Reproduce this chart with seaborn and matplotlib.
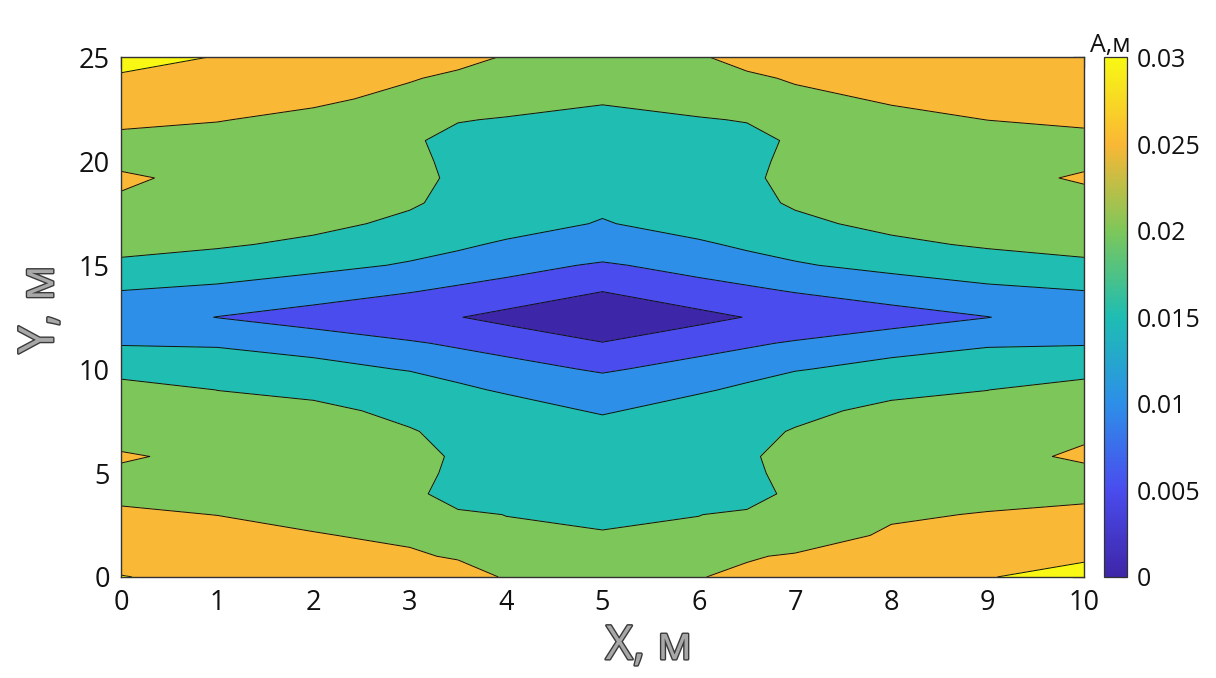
import numpy as np
import matplotlib
matplotlib.use("Agg")
import matplotlib.pyplot as plt
import matplotlib.patheffects as pe
from matplotlib.colors import Normalize
from matplotlib.cm import ScalarMappable
import seaborn as sns

# Grid nodes (metres)
x_pos = [0, 1, 2, 3, 3.5, 4, 5, 6, 6.5, 7, 8, 9, 10]
y_pos = [0, 1, 2, 3, 4, 5, 5.8, 7, 8, 9, 10, 11.25, 12.5, 13.75, 15,
         16, 17, 18, 19.2, 20, 21, 22, 23, 24, 25]

# Amplitude A (m) along each grid column, listed from y = 0 to y = 25
amp_x0 = [0.0302, 0.0280, 0.0265, 0.02536, 0.0245, 0.02425, 0.0255, 0.0230, 0.0235,
          0.02318, 0.01707, 0.0148, 0.0125, 0.01495, 0.01703, 0.02485, 0.0245, 0.02456,
          0.0255, 0.02425, 0.02365, 0.0262, 0.0280, 0.02947, 0.0315]
amp_x1 = [0.0285, 0.0270, 0.0258, 0.02497, 0.0245, 0.0240, 0.02383, 0.0232, 0.0220,
          0.01995, 0.0176, 0.0145, 0.0099, 0.0140, 0.01757, 0.02061, 0.0225, 0.0235,
          0.02407, 0.0238, 0.0240, 0.02512, 0.0268, 0.0285, 0.02981]
amp_x2 = [0.0278, 0.0265, 0.02522, 0.0240, 0.0235, 0.0230, 0.0228, 0.0222, 0.0215,
          0.0185, 0.01748, 0.01185, 0.0085, 0.01168, 0.01656, 0.0190, 0.02122, 0.0225,
          0.0232, 0.0235, 0.0238, 0.0243, 0.02551, 0.0270, 0.0285]
amp_x3 = [0.0265, 0.0255, 0.02432, 0.0230, 0.0220, 0.0215, 0.0212, 0.02038, 0.0185,
          0.0195, 0.0145, 0.01035, 0.0070, 0.01018, 0.0145, 0.0170, 0.0190, 0.02054,
          0.0215, 0.0215, 0.0210, 0.0230, 0.0243, 0.02518, 0.0262]
amp_x3_5 = [0.02682, 0.0246, 0.0225, 0.02109, 0.01674, 0.0190, 0.01953, 0.0185, 0.0180,
            0.01656, 0.0121, 0.0095, 0.00517, 0.0093, 0.01232, 0.01615, 0.0178, 0.01874,
            0.01908, 0.0185, 0.01788, 0.02037, 0.0230, 0.0245, 0.02575]
amp_x4 = [0.02465, 0.0225, 0.02115, 0.0199, 0.0185, 0.0180, 0.0180, 0.0185, 0.0190,
          0.0140, 0.01145, 0.00843, 0.0035, 0.00843, 0.0114, 0.0140, 0.0180, 0.0185,
          0.0183, 0.0182, 0.0185, 0.0195, 0.02307, 0.0240, 0.02481]
amp_x5 = [0.0232, 0.0220, 0.02053, 0.0185, 0.0182, 0.0180, 0.0182, 0.0190, 0.0140,
          0.01213, 0.0095, 0.005125, 0.0020, 0.00505, 0.0095, 0.01263, 0.0145, 0.0165,
          0.0178, 0.0180, 0.0182, 0.0190, 0.02039, 0.0222, 0.0232]
amp_x6 = [0.02482, 0.0225, 0.02115, 0.0199, 0.0185, 0.0180, 0.0180, 0.0185, 0.0190,
          0.0140, 0.01145, 0.00843, 0.0035, 0.00843, 0.0114, 0.0140, 0.0180, 0.0185,
          0.0183, 0.0182, 0.0185, 0.0195, 0.02307, 0.0240, 0.02469]
amp_x6_5 = [0.02593, 0.0246, 0.0225, 0.02109, 0.01674, 0.0190, 0.01953, 0.0185, 0.0180,
            0.01656, 0.0121, 0.0095, 0.00517, 0.0093, 0.01232, 0.01615, 0.0178, 0.01874,
            0.01908, 0.0185, 0.01788, 0.02037, 0.0230, 0.0245, 0.02597]
amp_x7 = [0.0268, 0.0255, 0.02217, 0.0225, 0.0220, 0.0215, 0.0212, 0.02038, 0.0185,
          0.0195, 0.0145, 0.01035, 0.0070, 0.01018, 0.0145, 0.0170, 0.0190, 0.02054,
          0.0215, 0.0215, 0.0210, 0.0230, 0.0243, 0.0253, 0.0265]
amp_x8 = [0.0285, 0.0272, 0.0258, 0.0243, 0.0237, 0.0232, 0.0229, 0.0222, 0.0215,
          0.0185, 0.01748, 0.01185, 0.0085, 0.01168, 0.01656, 0.0190, 0.02122, 0.0225,
          0.0232, 0.0235, 0.0238, 0.0243, 0.0253, 0.0265, 0.0278]
amp_x9 = [0.02973, 0.0280, 0.0265, 0.0253, 0.0233, 0.0238, 0.02398, 0.0232, 0.0220,
          0.01995, 0.0176, 0.0145, 0.0099, 0.0140, 0.01757, 0.02061, 0.0225, 0.0233,
          0.02358, 0.0236, 0.0240, 0.02502, 0.0265, 0.0278, 0.0288]
amp_x10 = [0.03245, 0.0290, 0.0275, 0.0258, 0.02426, 0.02425, 0.0255, 0.02443, 0.0238,
           0.02318, 0.01707, 0.0148, 0.0125, 0.01495, 0.01703, 0.02485, 0.0245, 0.0235,
           0.0255, 0.02417, 0.0240, 0.02567, 0.0272, 0.0283, 0.0292]

# Contour levels and colour-bar ticks
levels = [0.0, 0.005, 0.01, 0.015, 0.02, 0.025, 0.03, 0.035]
cbar_ticks = [0, 0.005, 0.01, 0.015, 0.02, 0.025, 0.03]
cbar_ticklabels = ["0", "0.005", "0.01", "0.015", "0.02", "0.025", "0.03"]
x_ticks = list(range(0, 11))
y_ticks = [0, 5, 10, 15, 20, 25]

Z = np.column_stack([amp_x0, amp_x1, amp_x2, amp_x3, amp_x3_5, amp_x4, amp_x5,
                     amp_x6, amp_x6_5, amp_x7, amp_x8, amp_x9, amp_x10])

sns.set_style("white")
plt.rcParams["font.family"] = ["Open Sans", "DejaVu Sans"]
plt.rcParams["xtick.direction"] = "in"
plt.rcParams["ytick.direction"] = "in"

# parula-like colour map
cmap = sns.blend_palette(["#3e26a8", "#4a4cee", "#2d8fe8", "#1ebdb3",
                          "#7dc75a", "#f9b735", "#f8f814"], n_colors=256, as_cmap=True)
vmin, vmax = 0.0, 0.03
band_colors = [cmap(min(lv / vmax, 1.0)) for lv in levels[:-1]]

fig = plt.figure(figsize=(12.16, 6.78), dpi=100)
ax = fig.add_axes([0.0995, 0.149, 0.7919, 0.7663])
cax = fig.add_axes([0.9079, 0.149, 0.0189, 0.7663])

ax.contourf(x_pos, y_pos, Z, levels=levels, colors=band_colors)
ax.contour(x_pos, y_pos, Z, levels=levels[1:-1], colors="#111111", linewidths=0.7)

ax.set_xlim(0, 10)
ax.set_ylim(0, 25)
ax.set_xticks(x_ticks)
ax.set_yticks(y_ticks)
ax.tick_params(axis="both", which="both", direction="in", length=8, width=0.9,
               color="#333333", labelsize=19.5, labelcolor="#111111",
               top=True, right=True)
ax.tick_params(axis="x", pad=9)
ax.tick_params(axis="y", pad=8)
for sp in ax.spines.values():
    sp.set_visible(True)
    sp.set_color("#333333")
    sp.set_linewidth(1.0)

outline = [pe.Stroke(linewidth=2.0, foreground="#3a3a3a"), pe.Normal()]
ax.set_xlabel("X, м", fontsize=34, color="#a8a8a8", path_effects=outline)
ax.set_ylabel("Y, м", fontsize=35, color="#a8a8a8", path_effects=outline)
ax.xaxis.set_label_coords(0.548, -0.088)
ax.yaxis.set_label_coords(-0.058, 0.515)

sm = ScalarMappable(norm=Normalize(vmin=vmin, vmax=vmax), cmap=cmap)
cb = fig.colorbar(sm, cax=cax)
cb.set_ticks(cbar_ticks)
cb.set_ticklabels(cbar_ticklabels)
cb.ax.tick_params(direction="in", length=4, width=0.8, color="#333333",
                  labelsize=18, labelcolor="#111111", pad=7)
cb.outline.set_edgecolor("#333333")
cb.outline.set_linewidth(0.9)
cax.text(-0.6, 0.998, "A,м", transform=cax.transAxes, fontsize=18,
         color="#111111", ha="left", va="bottom")

fig.savefig("out.png", dpi=100)
